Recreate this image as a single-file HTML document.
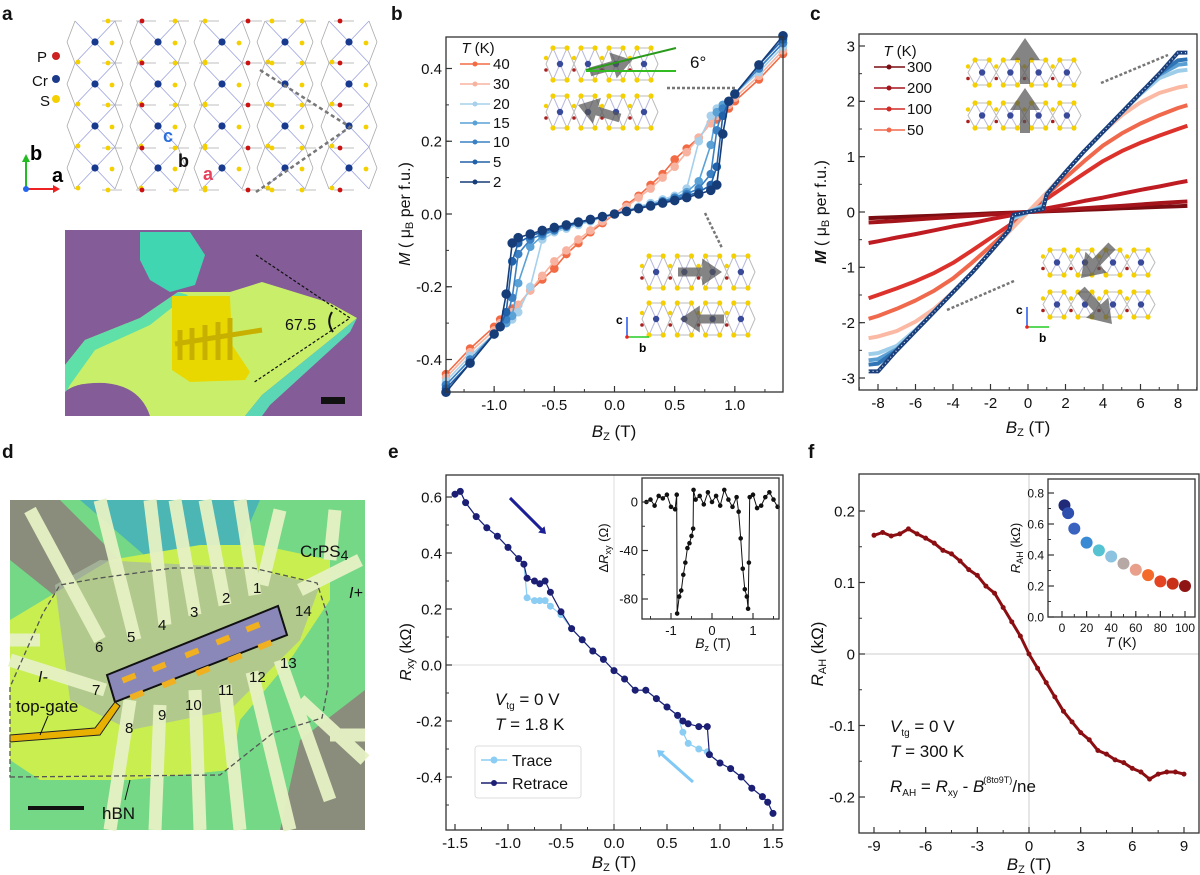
<!DOCTYPE html>
<html><head><meta charset="utf-8">
<style>
html,body{margin:0;padding:0;background:#fff;}
svg{display:block;font-family:"Liberation Sans","DejaVu Sans",sans-serif;}
text{font-family:"Liberation Sans","DejaVu Sans",sans-serif;}
</style></head>
<body>
<svg id="fig" width="1200" height="875" viewBox="0 0 1200 875" xmlns="http://www.w3.org/2000/svg">
<g font-weight="bold" font-size="19" fill="#111">
<text x="2" y="20">a</text>
<text x="391" y="20">b</text>
<text x="810" y="20">c</text>
<text x="2" y="458">d</text>
<text x="388" y="458">e</text>
<text x="808" y="458">f</text>
</g>

<g id="lattice"></g>
<g font-size="15" fill="#111">
<text x="37" y="62">P</text><circle cx="56" cy="56" r="4" fill="#cc2222"/>
<text x="32" y="86">Cr</text><circle cx="56" cy="79" r="4" fill="#1d3a8a"/>
<text x="40" y="106">S</text><circle cx="56" cy="99" r="4" fill="#f5d000"/>
</g>
<g>
<line x1="26" y1="189" x2="26" y2="160" stroke="#22bb22" stroke-width="2"/><polygon points="22,162 30,162 26,154" fill="#22bb22"/>
<line x1="26" y1="189" x2="55" y2="189" stroke="#ee2222" stroke-width="2"/><polygon points="53,185 53,193 60,189" fill="#ee2222"/>
<circle cx="26" cy="189" r="3" fill="#2266ee"/>
<text x="30" y="160" font-size="20" font-weight="bold">b</text>
<text x="52" y="182" font-size="20" font-weight="bold">a</text>
</g>
<text x="163" y="142" font-size="18" font-weight="bold" fill="#2a6fdd">c</text>
<text x="178" y="167" font-size="18" font-weight="bold" fill="#111">b</text>
<text x="203" y="180" font-size="18" font-weight="bold" fill="#e8405a">a</text>
<polyline points="260,70 350,127 256,192" fill="none" stroke="#777" stroke-width="2.5" stroke-dasharray="4,3"/>

<g>
<rect x="65" y="230" width="297" height="186" fill="#845c98"/>
<polygon points="65,365 85,340 140,318 178,292 230,292 262,282 330,303 357,318 340,332 262,395 245,416 65,416" fill="#c9ef6a"/>
<polygon points="65,365 85,340 140,318 178,292 188,295 150,325 95,350 70,385 65,395" fill="#5ee0a8"/>
<polygon points="245,416 262,395 340,332 357,318 350,332 270,405 262,416" fill="#5cd7b5"/>
<path d="M65,392 Q75,382 105,383 Q140,386 150,416 L65,416 Z" fill="#845c98"/>
<polygon points="140,232 190,232 205,255 195,285 170,292 150,280 140,260" fill="#40d6b2"/>
<polygon points="172,296 230,296 232,345 250,372 245,380 190,382 172,370" fill="#e8d800"/>
<g stroke="#c8b000" stroke-width="5"><line x1="180" y1="330" x2="180" y2="360"/><line x1="192" y1="328" x2="192" y2="360"/><line x1="205" y1="325" x2="205" y2="360"/><line x1="218" y1="322" x2="218" y2="360"/><line x1="230" y1="318" x2="230" y2="360"/><line x1="175" y1="344" x2="262" y2="330"/></g>
<polyline points="256,255 350,318 253,383" fill="none" stroke="#111" stroke-width="1.2" stroke-dasharray="3,2"/>
<path d="M332,312 Q326,322 333,332" fill="none" stroke="#111" stroke-width="2"/>
<text x="285" y="330" font-size="16" fill="#111">67.5</text>
<rect x="321" y="397" width="24" height="7" fill="#111"/>
</g>

<g>
<rect x="10" y="500" width="355" height="330" fill="#74d886"/>
<polygon points="10,500 60,500 120,560 60,600 10,560" fill="#8a8d7c"/>
<polygon points="80,500 260,500 240,545 150,560" fill="#3aa8c8" opacity="0.7"/>
<polygon points="300,740 365,690 365,830 280,830" fill="#8a8d7c"/>
<polygon points="10,620 60,590 110,560 200,545 260,545 330,560 330,600 290,660 240,720 230,770 130,780 40,780 10,760" fill="#c8ee50"/>
<polygon points="55,585 100,560 250,568 320,585 300,640 230,710 130,730 70,700" fill="#a9bca0" opacity="0.75"/>
<g id="electrodes" stroke="#e6f2c4" stroke-width="13" stroke-linecap="butt" opacity="0.95"></g>
<polygon points="107,675 278,606 287,635 115,702" fill="#8a88b8" stroke="#111" stroke-width="2"/>
<g fill="#f0b020"><rect x="122" y="675" width="14" height="6" transform="rotate(-22 129 678)"/><rect x="152" y="664" width="14" height="6" transform="rotate(-22 159 667)"/><rect x="185" y="650" width="14" height="6" transform="rotate(-22 192 653)"/><rect x="216" y="637" width="14" height="6" transform="rotate(-22 223 640)"/><rect x="246" y="624" width="14" height="6" transform="rotate(-22 253 627)"/><rect x="130" y="692" width="14" height="6" transform="rotate(-22 137 695)"/><rect x="162" y="680" width="14" height="6" transform="rotate(-22 169 683)"/><rect x="196" y="668" width="14" height="6" transform="rotate(-22 203 671)"/><rect x="228" y="655" width="14" height="6" transform="rotate(-22 235 658)"/><rect x="258" y="642" width="14" height="6" transform="rotate(-22 265 645)"/></g>
<polygon points="10,735 95,728 115,702 120,706 100,735 10,742" fill="#e8b000" stroke="#222" stroke-width="1"/>
<polygon points="10,777 220,775 273,733 322,718 328,686 328,617 317,583 253,568 173,568 100,578 60,585 43,613 10,687" fill="none" stroke="#555" stroke-width="1.3" stroke-dasharray="5,3"/>
<g font-size="15" fill="#111">
<text x="253" y="593">1</text><text x="222" y="603">2</text><text x="190" y="617">3</text><text x="158" y="630">4</text><text x="127" y="642">5</text><text x="95" y="652">6</text><text x="92" y="695">7</text><text x="125" y="733">8</text><text x="158" y="720">9</text><text x="185" y="710">10</text><text x="218" y="695">11</text><text x="249" y="682">12</text><text x="280" y="668">13</text><text x="295" y="616">14</text>
</g>
<text x="300" y="557" font-size="17" fill="#111">CrPS<tspan font-size="14" dy="3">4</tspan></text>
<text x="349" y="598" font-size="16" fill="#111" font-style="italic">I+</text>
<text x="38" y="682" font-size="16" fill="#111" font-style="italic">I-</text>
<text x="16" y="712" font-size="17" fill="#111">top-gate</text>
<line x1="48" y1="716" x2="40" y2="735" stroke="#111" stroke-width="1"/>
<text x="102" y="819" font-size="17" fill="#111">hBN</text>
<line x1="130" y1="780" x2="125" y2="800" stroke="#111" stroke-width="1"/>
<rect x="28" y="806" width="56" height="4" fill="#111"/>
</g>

<g id="plots"></g>
</svg>

<script>
// ---------- DATA: panel b ----------
const bField = [-1.4,-1.2,-1.0,-0.95,-0.9,-0.85,-0.8,-0.7,-0.6,-0.5,-0.4,-0.3,-0.2,-0.1,0,0.1,0.2,0.3,0.4,0.5,0.6,0.7,0.8,0.85,0.9,0.95,1.0,1.2,1.4];
const bM40 = [-0.44,-0.37,-0.31,-0.29,-0.28,-0.26,-0.25,-0.21,-0.18,-0.15,-0.11,-0.08,-0.05,-0.025,0,0.025,0.05,0.08,0.11,0.15,0.18,0.21,0.25,0.26,0.28,0.29,0.31,0.37,0.44];
const bM30 = [-0.45,-0.38,-0.32,-0.30,-0.29,-0.27,-0.25,-0.21,-0.17,-0.13,-0.10,-0.07,-0.045,-0.02,0,0.02,0.045,0.07,0.10,0.13,0.17,0.21,0.25,0.27,0.29,0.30,0.32,0.38,0.45];
const bM20 = [-0.46,-0.39,-0.33,-0.31,-0.30,-0.29,-0.27,-0.20,-0.07,-0.05,-0.04,-0.03,-0.02,-0.01,0,0.01,0.02,0.03,0.04,0.05,0.07,0.20,0.27,0.29,0.30,0.31,0.33,0.39,0.46];
const bM15 = [-0.47,-0.40,-0.33,-0.31,-0.30,-0.28,-0.19,-0.09,-0.06,-0.045,-0.035,-0.025,-0.017,-0.008,0,0.008,0.017,0.025,0.035,0.045,0.06,0.09,0.19,0.28,0.30,0.31,0.33,0.40,0.47];
const bM10 = [-0.47,-0.40,-0.33,-0.31,-0.29,-0.23,-0.11,-0.07,-0.055,-0.045,-0.035,-0.025,-0.017,-0.008,0,0.008,0.017,0.025,0.035,0.045,0.055,0.07,0.11,0.23,0.29,0.31,0.33,0.40,0.47];
const bM5 = [-0.48,-0.41,-0.33,-0.31,-0.27,-0.13,-0.08,-0.06,-0.05,-0.04,-0.032,-0.024,-0.016,-0.008,0,0.008,0.016,0.024,0.032,0.04,0.05,0.06,0.08,0.13,0.27,0.31,0.33,0.41,0.48];
const bM2 = [-0.49,-0.41,-0.33,-0.31,-0.22,-0.08,-0.065,-0.055,-0.045,-0.037,-0.03,-0.022,-0.015,-0.007,0,0.007,0.015,0.022,0.03,0.037,0.045,0.055,0.065,0.08,0.22,0.31,0.33,0.41,0.49];
const bXTicks = [-1.0,-0.5,0.0,0.5,1.0];
const bXLabels = ["-1.0","-0.5","0.0","0.5","1.0"];
const bYTicks = [-0.4,-0.2,0.0,0.2,0.4];
const bYLabels = ["-0.4","-0.2","0.0","0.2","0.4"];
const bLegend = ["40","30","20","15","10","5","2"];

// ---------- DATA: panel c ----------
const cField = [-8.5,-8,-7,-6,-5,-4,-3,-2,-1,-0.8,0,0.8,1,2,3,4,5,6,7,8,8.5];
const cM2 = [-2.88,-2.88,-2.5,-2.15,-1.8,-1.45,-1.1,-0.72,-0.32,-0.05,0,0.05,0.32,0.72,1.1,1.45,1.8,2.15,2.5,2.88,2.88];
const cM5 = [-2.76,-2.74,-2.5,-2.15,-1.8,-1.45,-1.1,-0.72,-0.32,-0.06,0,0.06,0.32,0.72,1.1,1.45,1.8,2.15,2.5,2.74,2.76];
const cM10 = [-2.68,-2.66,-2.48,-2.15,-1.8,-1.45,-1.1,-0.72,-0.32,-0.08,0,0.08,0.32,0.72,1.1,1.45,1.8,2.15,2.48,2.66,2.68];
const cM20 = [-2.57,-2.55,-2.42,-2.13,-1.8,-1.45,-1.1,-0.72,-0.33,-0.12,0,0.12,0.33,0.72,1.1,1.45,1.8,2.13,2.42,2.55,2.57];
const cM50 = [-2.28,-2.25,-2.15,-1.98,-1.75,-1.45,-1.1,-0.72,-0.35,-0.28,0,0.28,0.35,0.72,1.1,1.45,1.75,1.98,2.15,2.25,2.28];
const cM100 = [-1.93,-1.88,-1.75,-1.6,-1.42,-1.2,-0.92,-0.62,-0.31,-0.25,0,0.25,0.31,0.62,0.92,1.2,1.42,1.6,1.75,1.88,1.93];
const cM150 = [-1.56,-1.5,-1.38,-1.25,-1.1,-0.92,-0.7,-0.47,-0.24,-0.19,0,0.19,0.24,0.47,0.7,0.92,1.1,1.25,1.38,1.5,1.56];
const cM200 = [-0.56,-0.53,-0.46,-0.40,-0.33,-0.26,-0.2,-0.13,-0.066,-0.053,0,0.053,0.066,0.13,0.2,0.26,0.33,0.40,0.46,0.53,0.56];
const cM250 = [-0.19,-0.18,-0.16,-0.135,-0.11,-0.09,-0.067,-0.045,-0.022,-0.018,0,0.018,0.022,0.045,0.067,0.09,0.11,0.135,0.16,0.18,0.19];
const cM300 = [-0.11,-0.105,-0.092,-0.079,-0.066,-0.053,-0.04,-0.026,-0.013,-0.01,0,0.01,0.013,0.026,0.04,0.053,0.066,0.079,0.092,0.105,0.11];
const cXTicks = [-8,-6,-4,-2,0,2,4,6,8];
const cXLabels = ["-8","-6","-4","-2","0","2","4","6","8"];
const cYTicks = [-3,-2,-1,0,1,2,3];
const cYLabels = ["-3","-2","-1","0","1","2","3"];
const cLegend = ["300","200","100","50"];

// ---------- DATA: panel e ----------
const eField = [-1.5,-1.45,-1.4,-1.3,-1.2,-1.1,-1.0,-0.9,-0.85,-0.82,-0.75,-0.7,-0.65,-0.6,-0.5,-0.4,-0.3,-0.2,-0.1,0,0.1,0.2,0.3,0.4,0.5,0.6,0.65,0.7,0.8,0.88,0.9,1.0,1.1,1.2,1.3,1.4,1.45,1.5];
const eRetrace = [0.61,0.62,0.58,0.53,0.49,0.46,0.42,0.38,0.36,0.31,0.30,0.29,0.30,0.26,0.19,0.13,0.09,0.05,0.02,-0.02,-0.05,-0.09,-0.09,-0.12,-0.15,-0.18,-0.20,-0.21,-0.22,-0.22,-0.32,-0.35,-0.37,-0.40,-0.44,-0.47,-0.49,-0.53];
const eTrace = [0.61,0.62,0.58,0.53,0.49,0.46,0.42,0.38,0.36,0.24,0.23,0.23,0.23,0.21,0.18,0.13,0.09,0.05,0.02,-0.02,-0.05,-0.09,-0.09,-0.12,-0.15,-0.18,-0.24,-0.28,-0.30,-0.31,-0.32,-0.35,-0.37,-0.40,-0.44,-0.47,-0.49,-0.53];
const eXTicks = [-1.5,-1.0,-0.5,0.0,0.5,1.0,1.5];
const eXLabels = ["-1.5","-1.0","-0.5","0.0","0.5","1.0","1.5"];
const eYTicks = [-0.4,-0.2,0.0,0.2,0.4,0.6];
const eYLabels = ["-0.4","-0.2","0.0","0.2","0.4","0.6"];
const eiField = [-1.6,-1.5,-1.4,-1.3,-1.2,-1.1,-1.0,-0.9,-0.86,-0.85,-0.8,-0.75,-0.7,-0.65,-0.6,-0.55,-0.5,-0.46,-0.45,-0.4,-0.3,-0.2,-0.1,0,0.1,0.2,0.3,0.4,0.5,0.6,0.65,0.7,0.75,0.8,0.85,0.88,0.9,0.92,1.0,1.1,1.2,1.3,1.4,1.5,1.6];
const eiDelta = [0,2,-3,5,3,6,-4,-6,6,-92,-78,-73,-60,-50,-38,-34,-28,-22,10,2,5,-2,8,0,5,-3,10,2,-4,4,-8,-30,-55,-72,-78,-88,-50,4,6,-5,-3,4,8,2,-4];
const eiXTicks = [-1,0,1];
const eiXLabels = ["-1","0","1"];
const eiYTicks = [-80,-40,0];
const eiYLabels = ["-80","-40","0"];

// ---------- DATA: panel f ----------
const fField = [-9,-8.5,-8,-7.5,-7,-6.5,-6,-5.5,-5,-4.5,-4,-3.5,-3,-2.5,-2,-1.5,-1,-0.5,0,0.5,1,1.5,2,2.5,3,3.5,4,4.5,5,5.5,6,6.5,7,7.5,8,8.5,9];
const fRah = [0.166,0.17,0.165,0.168,0.175,0.168,0.162,0.155,0.145,0.14,0.13,0.118,0.11,0.095,0.085,0.065,0.045,0.025,0,-0.02,-0.04,-0.06,-0.08,-0.095,-0.11,-0.12,-0.135,-0.14,-0.148,-0.152,-0.16,-0.165,-0.175,-0.168,-0.165,-0.165,-0.168];
const fXTicks = [-9,-6,-3,0,3,6,9];
const fXLabels = ["-9","-6","-3","0","3","6","9"];
const fYTicks = [-0.2,-0.1,0,0.1,0.2];
const fYLabels = ["-0.2","-0.1","0","0.1","0.2"];
const fiTemp = [2,5,10,20,30,40,50,60,70,80,90,100];
const fiRah = [0.72,0.67,0.57,0.48,0.43,0.39,0.345,0.305,0.27,0.23,0.215,0.2];
const fiXTicks = [0,20,40,60,80,100];
const fiXLabels = ["0","20","40","60","80","100"];
const fiYTicks = [0,0.2,0.4,0.6,0.8];
const fiYLabels = ["0.0","0.2","0.4","0.6","0.8"];

const NS = 'http://www.w3.org/2000/svg';
const plots = document.getElementById('plots');
function mk(tag, attrs, parent){
  const e = document.createElementNS(NS, tag);
  for (const k in attrs) e.setAttribute(k, attrs[k]);
  (parent || plots).appendChild(e);
  return e;
}
function scale(d0,d1,p0,p1){ return v => p0 + (v-d0)/(d1-d0)*(p1-p0); }

function axes(name, box, sx, sy, xt, xl, yt, yl, fs, minorX, minorY, parent){
  const g = mk('g', {}, parent);
  
  
  const r = mk('rect', {x:box.x0, y:box.y0, width:box.x1-box.x0, height:box.y1-box.y0, fill:'none', stroke:'#333', 'stroke-width':1.3}, g);
  
  
  xt.forEach((v,i) => {
    const x = sx(v);
    mk('line', {x1:x, x2:x, y1:box.y1, y2:box.y1-6, stroke:'#333', 'stroke-width':1.2}, g);
    const t = mk('text', {x:x, y:box.y1+fs+3, 'font-size':fs, 'text-anchor':'middle', fill:'#111'}, g);
    t.textContent = xl[i];
    
    
  });
  minorX.forEach(v => { const x = sx(v); mk('line', {x1:x, x2:x, y1:box.y1, y2:box.y1-3, stroke:'#333', 'stroke-width':1}, g); });
  yt.forEach((v,i) => {
    const y = sy(v);
    mk('line', {x1:box.x0, x2:box.x0+6, y1:y, y2:y, stroke:'#333', 'stroke-width':1.2}, g);
    const t = mk('text', {x:box.x0-4, y:y+fs*0.36, 'font-size':fs, 'text-anchor':'end', fill:'#111'}, g);
    t.textContent = yl[i];
    
    
  });
  minorY.forEach(v => { const y = sy(v); mk('line', {x1:box.x0, x2:box.x0+3, y1:y, y2:y, stroke:'#333', 'stroke-width':1}, g); });
  return g;
}
function series(name, xs, ys, sx, sy, color, w, r, parent, mfill, dash){
  const g = mk('g', {}, parent);
  
  
  const pts = xs.map((x,i) => sx(x).toFixed(1)+','+sy(ys[i]).toFixed(1)).join(' ');
  const pl = mk('polyline', {points:pts, fill:'none', stroke:color, 'stroke-width':w, 'stroke-linejoin':'round'}, g);
  if (dash) pl.setAttribute('stroke-dasharray', dash);
  if (r > 0) xs.forEach((x,i) => {
    const c = mk('circle', {cx:sx(x), cy:sy(ys[i]), r:r, fill:mfill||color, stroke:color, 'stroke-width':1}, g);
    
    
  });
  return g;
}
function rng(a,b,s){ const o=[]; for(let v=a; v<=b+1e-9; v+=s) o.push(+v.toFixed(4)); return o; }
function label(txt, x, y, fs, name, rot, extra){
  const t = mk('text', Object.assign({x:x, y:y, 'font-size':fs, 'text-anchor':'middle', fill:'#111'}, rot ? {transform:'rotate(-90 '+x+' '+y+')'} : {}, extra||{}));
  t.innerHTML = txt;
  
  
  return t;
}
function chain(x, y, w, h, name){
  const g = mk('g', {});
  
  
  const n = 4, cw = w/n;
  for (let i=0;i<n;i++){
    const cx = x + cw*i + cw/2;
    mk('polygon', {points:[[x+cw*i,y+h/2],[cx-cw/4,y],[cx+cw/4,y],[x+cw*(i+1),y+h/2],[cx+cw/4,y+h],[cx-cw/4,y+h]].map(p=>p.join(',')).join(' '), fill:'none', stroke:'#bbb', 'stroke-width':1}, g);
    mk('line', {x1:cx-cw/4, y1:y, x2:cx+cw/4, y2:y+h, stroke:'#b8b8e0', 'stroke-width':1}, g);
    mk('line', {x1:cx+cw/4, y1:y, x2:cx-cw/4, y2:y+h, stroke:'#b8b8e0', 'stroke-width':1}, g);
    mk('circle', {cx:cx, cy:y+h/2, r:3.2, fill:'#3a4a9a'}, g);
    mk('circle', {cx:cx-cw/4, cy:y, r:2.6, fill:'#f5d000'}, g);
    mk('circle', {cx:cx+cw/4, cy:y, r:2.6, fill:'#f5d000'}, g);
    mk('circle', {cx:cx-cw/4, cy:y+h, r:2.6, fill:'#f5d000'}, g);
    mk('circle', {cx:cx+cw/4, cy:y+h, r:2.6, fill:'#f5d000'}, g);
    mk('circle', {cx:x+cw*i, cy:y+h/2-6, r:2.2, fill:'#f5d000'}, g);
    mk('circle', {cx:x+cw*i, cy:y+h/2+6, r:1.8, fill:'#aa2020'}, g);
  }
  return g;
}
function arrow(x1,y1,x2,y2,wid,name,fill){
  const dx=x2-x1, dy=y2-y1, L=Math.hypot(dx,dy), ux=dx/L, uy=dy/L, nx=-uy, ny=ux, hl=wid*2.2, hw=wid*1.5;
  const bx=x2-ux*hl, by=y2-uy*hl;
  const p=[[x1+nx*wid/2,y1+ny*wid/2],[bx+nx*wid/2,by+ny*wid/2],[bx+nx*hw,by+ny*hw],[x2,y2],[bx-nx*hw,by-ny*hw],[bx-nx*wid/2,by-ny*wid/2],[x1-nx*wid/2,y1-ny*wid/2]];
  const a = mk('polygon', {points:p.map(q=>q.map(v=>v.toFixed(1)).join(',')).join(' '), fill:fill||'#555', opacity:fill?1:0.72});
  
  
}
function triad(x,y,name){
  const g = mk('g', {});
  
  
  mk('line',{x1:x,y1:y,x2:x,y2:y-20,stroke:'#2255ee','stroke-width':1.5},g);
  mk('line',{x1:x,y1:y,x2:x+22,y2:y,stroke:'#22cc22','stroke-width':1.5},g);
  mk('circle',{cx:x,cy:y,r:1.8,fill:'#ee2222'},g);
  const c=mk('text',{x:x-11,y:y-13,'font-size':12,'font-weight':'bold'},g); c.textContent='c';
  const b=mk('text',{x:x+12,y:y+15,'font-size':12,'font-weight':'bold'},g); b.textContent='b';
}

// ================= Panel b =================
{
  const box = {x0:446, x1:783, y0:37, y1:392};
  const sx = scale(-1.4, 1.4, box.x0, box.x1);
  const sy = scale(0, 0.4, 214, 68.5);
  const gp = mk('g', {});
  
  
  chain(546,48,112,32,'inset-b-chain-top'); chain(546,96,112,32,'inset-b-chain-bottom');
  chain(642,256,113,32,'inset-b-chain-lower-top'); chain(642,303,113,32,'inset-b-chain-lower-bottom');
  arrow(590,72,632,60,9,'spin-arrow-b1'); arrow(620,118,578,105,9,'spin-arrow-b2');
  arrow(678,272,722,272,9,'spin-arrow-b3'); arrow(724,319,680,319,9,'spin-arrow-b4');
  mk('line',{x1:586,y1:70,x2:676,y2:48,stroke:'#2a9a1a','stroke-width':2});
  mk('line',{x1:586,y1:71,x2:676,y2:71,stroke:'#33bb22','stroke-width':2});
  label('6°',690,68,17,'angle-6-label',false,{'text-anchor':'start'});
  mk('line',{x1:667,y1:88,x2:736,y2:88,stroke:'#777','stroke-width':2.5,'stroke-dasharray':'3,2'});
  mk('line',{x1:705,y1:213,x2:722,y2:248,stroke:'#777','stroke-width':2.5,'stroke-dasharray':'3,2'});
  triad(627,337,'axes-triad-b');
  const cols = ['#f26b45','#f8b3a0','#a6d0ec','#5aa1d6','#3a80c3','#2061a9','#173d79'];
  const data = [bM40,bM30,bM20,bM15,bM10,bM5,bM2];
  data.forEach((m,i) => series('series-b-'+bLegend[i]+'K', bField, m, sx, sy, cols[i], 1.6, i===6?4.3:3.8, gp, cols[i]));
  axes('panel-b', box, sx, sy, bXTicks, bXLabels, bYTicks, bYLabels, 15, rng(-1.25,1.25,0.25), rng(-0.4,0.4,0.1), gp);
  label('<tspan font-style="italic">T</tspan> (K)', 478, 53, 15, 'legend-b-title');
  bLegend.forEach((t,i) => {
    const y = [64,84,104,123,142,162,182][i];
    const l = mk('line', {x1:460, x2:490, y1:y, y2:y, stroke:cols[i], 'stroke-width':1.6});
    
    
    mk('circle', {cx:475, cy:y, r:2.5, fill:cols[i]});
    label(t, 493, y+5, 15, 'legend-b-label', false, {'text-anchor':'start'});
  });
  label('<tspan font-style="italic">M</tspan> ( μ<tspan font-size="11" dy="3">B</tspan><tspan dy="-3"> per f.u.)</tspan>', 410, 214, 16, 'panel-b-y-title', true);
  label('<tspan font-style="italic">B</tspan><tspan font-size="11" dy="3">Z</tspan><tspan dy="-3"> (T)</tspan>', 614, 437, 17, 'panel-b-x-title');
}

// ================= Panel c =================
{
  const box = {x0:859, x1:1197, y0:34, y1:390};
  const sx = scale(0, 8, 1028, 1178);
  const sy = scale(0, 3, 212, 46);
  const gp = mk('g', {});
  
  
  chain(968,60,113,25,'inset-c-chain-top'); chain(968,103,113,25,'inset-c-chain-bottom');
  chain(1043,250,112,25,'inset-c-chain-lower-top'); chain(1043,292,112,25,'inset-c-chain-lower-bottom');
  arrow(1025,84,1025,38,10,'spin-arrow-c1'); arrow(1025,133,1025,88,10,'spin-arrow-c2');
  arrow(1112,246,1081,278,10,'spin-arrow-c3'); arrow(1081,290,1112,324,10,'spin-arrow-c4');
  mk('line',{x1:1101,y1:83,x2:1168,y2:55,stroke:'#777','stroke-width':2.5,'stroke-dasharray':'3,2'});
  mk('line',{x1:947,y1:310,x2:1014,y2:281,stroke:'#777','stroke-width':2.5,'stroke-dasharray':'3,2'});
  triad(1027,327,'axes-triad-c');
  const cols = ['#7b0d12','#a3141b','#be1c22','#dc322b','#f0694c','#fbb8a2','#9ecde9','#5a9fd4','#2f75b6','#1b3f7b'];
  const data = [cM300,cM250,cM200,cM150,cM100,cM50,cM20,cM10,cM5,cM2];
  const names = ['300K','250K','200K','150K','100K','50K','20K','10K','5K','2K'];
  data.forEach((m,i) => series('series-c-'+names[i], cField, m, sx, sy, cols[i], 4, 0, gp));
  series('series-c-2K-dots', cField, cM2, sx, sy, '#dbe7f5', 1.2, 0, gp, null, '1,3');
  axes('panel-c', box, sx, sy, cXTicks, cXLabels, cYTicks, cYLabels, 15, rng(-9,9,1), rng(-3,3,0.5), gp);
  label('<tspan font-style="italic">T</tspan> (K)', 900, 56, 15, 'legend-c-title');
  const lcols = ['#7b0d12','#a3141b','#d02a26','#f0694c'];
  cLegend.forEach((t,i) => {
    const y = [67,88,109,130][i];
    const l = mk('line', {x1:874, x2:905, y1:y, y2:y, stroke:lcols[i], 'stroke-width':1.6});
    
    
    mk('circle', {cx:889, cy:y, r:2.5, fill:lcols[i]});
    label(t, 907, y+5, 15, 'legend-c-label', false, {'text-anchor':'start'});
  });
  label('<tspan font-style="italic" font-weight="bold">M</tspan> ( μ<tspan font-size="11" dy="3">B</tspan><tspan dy="-3"> per f.u.)</tspan>', 826, 212, 16, 'panel-c-y-title', true);
  label('<tspan font-style="italic">B</tspan><tspan font-size="11" dy="3">Z</tspan><tspan dy="-3"> (T)</tspan>', 1028, 433, 17, 'panel-c-x-title');
}

// ================= Panel e =================
{
  const box = {x0:446, x1:783, y0:475, y1:830};
  const sx = scale(0, 1.5, 614, 773);
  const sy = scale(0, 0.6, 665, 497);
  const gp = mk('g', {});
  
  
  mk('line',{x1:box.x0,x2:box.x1,y1:sy(0),y2:sy(0),stroke:'#ddd','stroke-width':1},gp);
  mk('line',{x1:sx(0),x2:sx(0),y1:box.y0,y2:box.y1,stroke:'#ddd','stroke-width':1},gp);
  series('series-e-trace', eField, eTrace, sx, sy, '#8ccdf3', 1.2, 3, gp);
  series('series-e-retrace', eField, eRetrace, sx, sy, '#1c1f73', 1.2, 3, gp);
  axes('panel-e', box, sx, sy, eXTicks, eXLabels, eYTicks, eYLabels, 15, rng(-1.5,1.5,0.25), rng(-0.5,0.6,0.1), gp);
  arrow(510,498,546,534,3,'sweep-arrow-down','#1c1f95');
  arrow(693,782,657,750,3,'sweep-arrow-up','#80c8f5');
  const ib = {x0:642, x1:779, y0:478, y1:619};
  const isx = scale(0, 1, 712, 753);
  const isy = scale(0, -80, 502, 599);
  const ibg = mk('rect',{x:ib.x0,y:ib.y0,width:ib.x1-ib.x0,height:ib.y1-ib.y0,fill:'#fff'},gp);
  
  
  series('series-e-inset-delta', eiField, eiDelta, isx, isy, '#111', 1, 1.8, gp);
  axes('panel-e-inset', ib, isx, isy, eiXTicks, eiXLabels, eiYTicks, eiYLabels, 13, rng(-1.5,1.5,0.5), rng(-80,0,20), gp);
  label('Δ<tspan font-style="italic">R</tspan><tspan font-size="9" dy="3">xy</tspan><tspan dy="-3"> (Ω)</tspan>', 608, 548, 13, 'inset-e-y-title', true);
  label('<tspan font-style="italic">B</tspan><tspan font-size="9" dy="3">z</tspan><tspan dy="-3"> (T)</tspan>', 713, 648, 14, 'inset-e-x-title');
  const lg = mk('rect',{x:475,y:746,width:106,height:52,rx:3,fill:'#fff',stroke:'#ddd','stroke-width':1});
  
  
  mk('line',{x1:481,x2:507,y1:760,y2:760,stroke:'#8ccdf3','stroke-width':1.5}); mk('circle',{cx:494,cy:760,r:3.5,fill:'#8ccdf3'});
  mk('line',{x1:481,x2:507,y1:783,y2:783,stroke:'#1c1f73','stroke-width':1.5}); mk('circle',{cx:494,cy:783,r:3,fill:'#1c1f73'});
  label('Trace', 512, 766, 16, 'legend-e-trace', false, {'text-anchor':'start'});
  label('Retrace', 512, 789, 16, 'legend-e-retrace', false, {'text-anchor':'start'});
  label('<tspan font-style="italic">V</tspan><tspan font-size="10" dy="4">tg</tspan><tspan dy="-4"> = 0 V</tspan>', 495, 705, 17, 'annot-e-vtg', false, {'text-anchor':'start'});
  label('<tspan font-style="italic">T</tspan> = 1.8 K', 495, 730, 17, 'annot-e-temp', false, {'text-anchor':'start'});
  label('<tspan font-style="italic">R</tspan><tspan font-size="11" dy="3">xy</tspan><tspan dy="-3"> (kΩ)</tspan>', 411, 652, 16, 'panel-e-y-title', true);
  label('<tspan font-style="italic">B</tspan><tspan font-size="11" dy="3">Z</tspan><tspan dy="-3"> (T)</tspan>', 614, 868, 17, 'panel-e-x-title');
}

// ================= Panel f =================
{
  const box = {x0:859, x1:1199, y0:474, y1:833};
  const sx = scale(0, 9, 1029, 1184);
  const sy = scale(0, 0.2, 654, 511);
  const gp = mk('g', {});
  
  
  mk('line',{x1:box.x0,x2:box.x1,y1:sy(0),y2:sy(0),stroke:'#ccc','stroke-width':1},gp);
  mk('line',{x1:sx(0),x2:sx(0),y1:box.y0,y2:box.y1,stroke:'#ccc','stroke-width':1},gp);
  series('series-f-rah', fField, fRah, sx, sy, '#8b0f12', 3, 2, gp);
  axes('panel-f', box, sx, sy, fXTicks, fXLabels, fYTicks, fYLabels, 15, rng(-9,9,1.5), rng(-0.2,0.2,0.05), gp);
  const ib = {x0:1048, x1:1195, y0:479, y1:617};
  const isx = scale(0, 100, 1062, 1185);
  const isy = scale(0, 0.8, 617, 493);
  const ibg = mk('rect',{x:ib.x0,y:ib.y0,width:ib.x1-ib.x0,height:ib.y1-ib.y0,fill:'#fff'},gp);
  
  
  axes('panel-f-inset', ib, isx, isy, fiXTicks, fiXLabels, fiYTicks, fiYLabels, 12, rng(0,100,10), rng(0,0.8,0.1), gp);
  const icols = ['#1f2a78','#2f4fae','#3a62bf','#3a8ad4','#55c3d2','#8cc3e0','#b5a8a5','#e8a08a','#f36a2a','#e54422','#c83118','#8f1515'];
  fiTemp.forEach((t,i) => {
    const c = mk('circle',{cx:isx(t),cy:isy(fiRah[i]),r:6,fill:icols[i]},gp);
    
    
  });
  label('<tspan font-style="italic">R</tspan><tspan font-size="9" dy="3">AH</tspan><tspan dy="-3"> (kΩ)</tspan>', 1020, 548, 13, 'inset-f-y-title', true);
  label('<tspan font-style="italic">T</tspan> (K)', 1121, 647, 14, 'inset-f-x-title');
  label('<tspan font-style="italic">V</tspan><tspan font-size="10" dy="4">tg</tspan><tspan dy="-4"> = 0 V</tspan>', 890, 732, 17, 'annot-f-vtg', false, {'text-anchor':'start'});
  label('<tspan font-style="italic">T</tspan> = 300 K', 890, 757, 17, 'annot-f-temp', false, {'text-anchor':'start'});
  label('<tspan font-style="italic">R</tspan><tspan font-size="10" dy="4">AH</tspan><tspan dy="-4"> = </tspan><tspan font-style="italic">R</tspan><tspan font-size="10" dy="4">xy</tspan><tspan dy="-4"> - </tspan><tspan font-style="italic">B</tspan><tspan font-size="9" dx="-1" dy="-9">(8to9T)</tspan><tspan dy="9">/ne</tspan>', 890, 792, 17, 'annot-f-formula', false, {'text-anchor':'start'});
  label('<tspan font-style="italic">R</tspan><tspan font-size="11" dy="3">AH</tspan><tspan dy="-3"> (kΩ)</tspan>', 823, 654, 17, 'panel-f-y-title', true);
  label('<tspan font-style="italic">B</tspan><tspan font-size="11" dy="3">Z</tspan><tspan dy="-3"> (T)</tspan>', 1029, 870, 17, 'panel-f-x-title');
}

// ================= decorative lattice (panel a) =================
{
  const L = document.getElementById('lattice');
  const crX = [95,158,222,285,349], crY = [42,84,126,168];
  crY.forEach((y,j) => crX.forEach((x,i) => {
    [[-20,-21],[20,-21],[-20,21],[20,21]].forEach(d => mk('line',{x1:x,y1:y,x2:x+d[0],y2:y+d[1],stroke:'#9aa3dd','stroke-width':0.8},L));
    mk('line',{x1:x-20,y1:y-21,x2:x-28,y2:y,stroke:'#aaa','stroke-width':0.8},L);
    mk('line',{x1:x+20,y1:y-21,x2:x+28,y2:y,stroke:'#aaa','stroke-width':0.8},L);
    mk('line',{x1:x-28,y1:y,x2:x-20,y2:y+21,stroke:'#aaa','stroke-width':0.8},L);
    mk('line',{x1:x+28,y1:y,x2:x+20,y2:y+21,stroke:'#aaa','stroke-width':0.8},L);
    mk('circle',{cx:x,cy:y,r:3.6,fill:'#173a8f'},L);
    mk('circle',{cx:x+17,cy:y+1,r:2.4,fill:'#f5d000'},L);
    mk('circle',{cx:x-17,cy:y+20,r:2.4,fill:'#f5d000'},L);
  }));
  [21,63,105,148,190].forEach((y,j) => [108,142,175,205,248,272,302,340].forEach((x,i) => {
    mk('line',{x1:x-6,y1:y,x2:x+14,y2:y,stroke:'#aaa','stroke-width':0.8},L);
    mk('circle',{cx:x,cy:y,r:2.4,fill:(i%3===1)?'#cc1111':'#f5d000'},L);
  }));
}
{
  const E = document.getElementById('electrodes');
  const segs = [[30,510,100,640],[100,500,135,640],[150,500,165,625],[175,500,195,615],[205,500,225,605],[240,500,255,595],[280,510,262,585],[10,660,105,690],[10,640,40,640],[300,590,360,560],[130,700,110,830],[160,705,155,830],[195,690,200,830],[225,685,240,830],[252,672,290,830],[280,660,330,800],[300,700,365,760],[330,735,365,735],[335,510,330,560]];
  segs.forEach(s => mk('line',{x1:s[0],y1:s[1],x2:s[2],y2:s[3]},E));
}
</script>
</body></html>
